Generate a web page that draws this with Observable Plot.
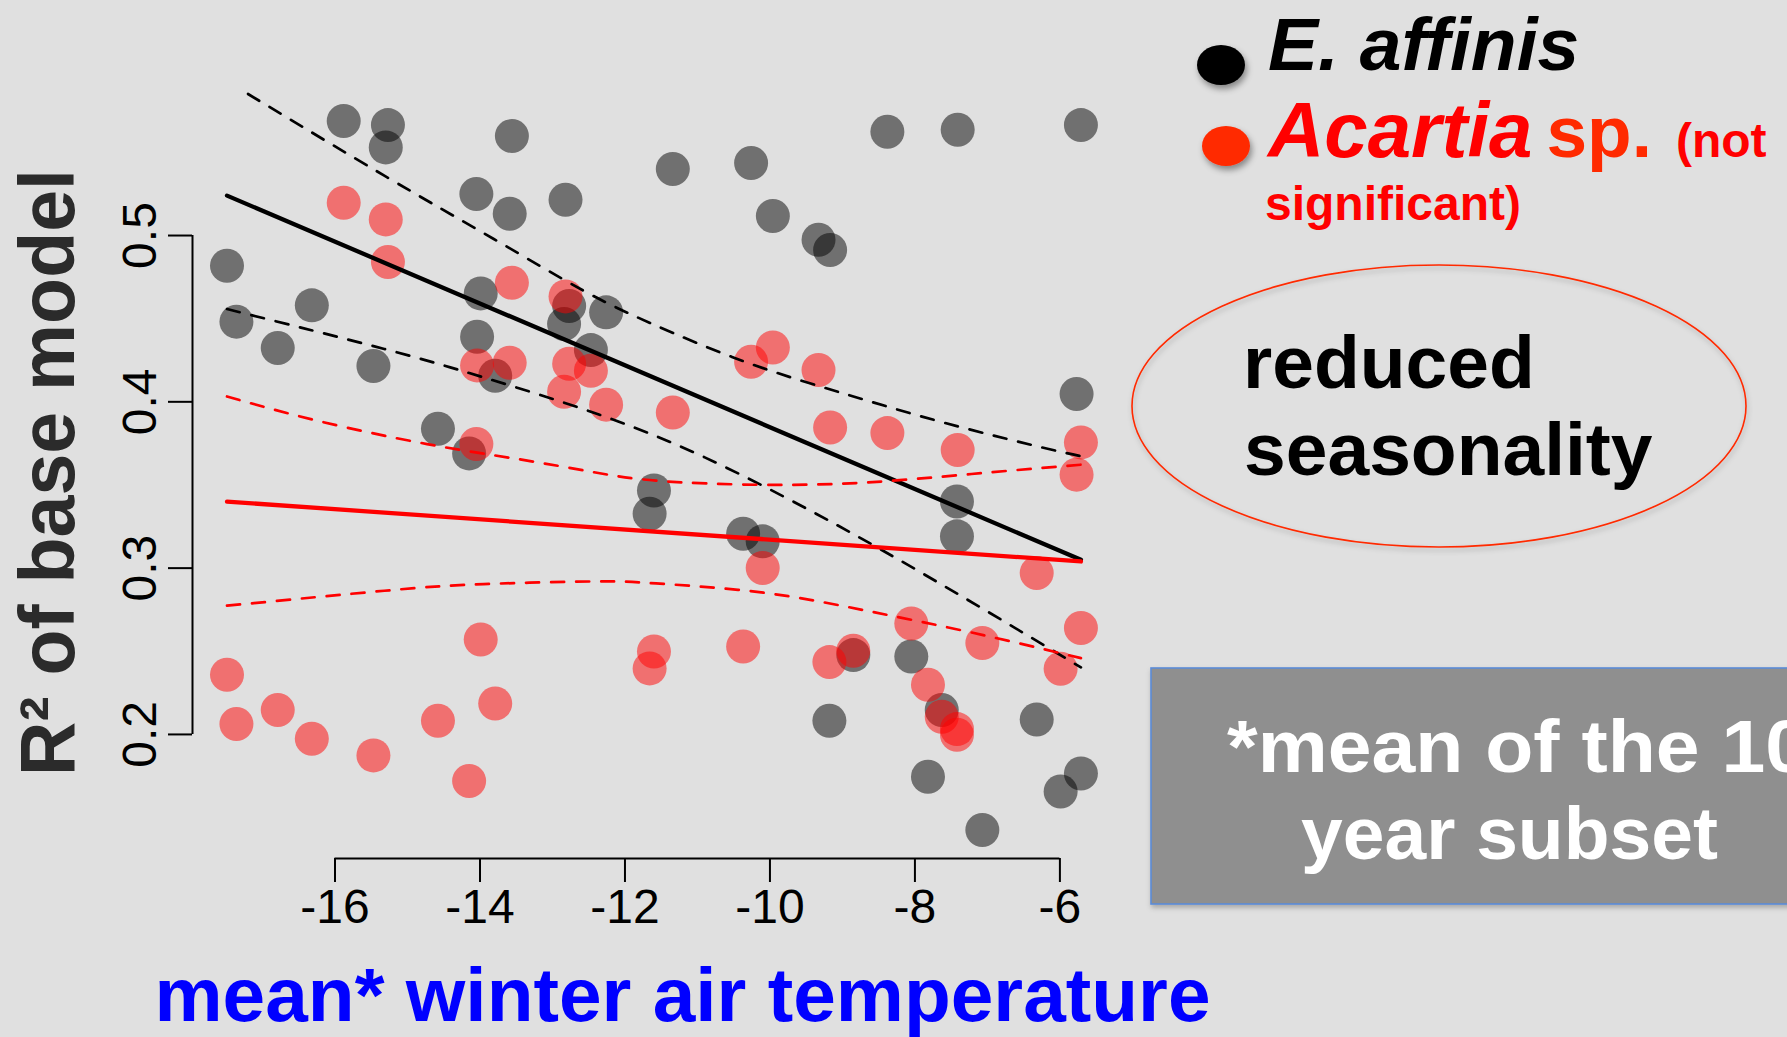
<!DOCTYPE html>
<html>
<head>
<meta charset="utf-8">
<script src="https://cdn.jsdelivr.net/npm/d3@7"></script>
<script src="https://cdn.jsdelivr.net/npm/@observablehq/plot@0.6"></script>
<style>
html, body { margin: 0; padding: 0; background: #e0e0e0; }
#chart { position: relative; width: 1787px; height: 1037px; overflow: hidden; }
</style>
</head>
<body>
<div id="chart"></div>
<script>
// mean winter air temperature of each 10-year subset (shared by both species)
const temperature = [-17.49, -17.36, -16.79, -16.32, -15.88, -15.47, -15.30, -15.27, -14.58, -14.15,
  -14.05, -14.04, -13.99, -13.79, -13.59, -13.56, -12.84, -12.82, -12.77, -12.47,
  -12.26, -11.66, -11.60, -11.34, -10.37, -10.26, -10.10, -9.96, -9.33, -9.18,
  -9.17, -8.85, -8.38, -8.05, -7.82, -7.63, -7.42, -7.42, -7.41, -7.07,
  -6.32, -5.99, -5.77, -5.71, -5.71];
// R² of base model, E. affinis
const r2Eaffinis = [0.4818, 0.4482, 0.4324, 0.4580, 0.5689, 0.4215, 0.5530, 0.5664, 0.3838, 0.3690,
  0.5250, 0.4391, 0.4652, 0.4157, 0.5131, 0.5598, 0.4468, 0.5215, 0.4576, 0.4311,
  0.4538, 0.3327, 0.3467, 0.5400, 0.3207, 0.5436, 0.3161, 0.5117, 0.4975, 0.2082,
  0.4913, 0.2477, 0.5624, 0.2469, 0.1746, 0.2147, 0.3401, 0.3191, 0.5636, 0.1425,
  0.2090, 0.1657, 0.4047, 0.5664, 0.1765];
// R² of base model, Acartia sp.
const r2Acartia = [0.2359, 0.2063, 0.2147, 0.1974, 0.5197, 0.1874, 0.5097, 0.4841, 0.2082, 0.1720,
  0.3746, 0.4219, 0.2571, 0.2186, 0.4235, 0.4716, 0.4061, 0.4634, 0.4229, 0.4187,
  0.3983, 0.2397, 0.2499, 0.3936, 0.2529, 0.4241, 0.3001, 0.4327, 0.4191, 0.2435,
  0.3846, 0.2503, 0.3812, 0.2667, 0.2299, 0.2106, 0.2032, 0.1998, 0.3710, 0.2550,
  0.2971, 0.2395, 0.3562, 0.3756, 0.2640];

// fitted regression lines (end points)
const fitX = [-17.49, -5.71];
const fitEaffinis = [0.524, 0.305];
const fitAcartia = [0.340, 0.304];

// confidence bands
const bandEaffinisUpperX = [-17.20, -15.32, -13.81, -12.57, -11.62, -10.32, -8.96, -7.61, -6.25, -5.71];
const bandEaffinisUpperY = [0.5851, 0.5360, 0.4979, 0.4668, 0.4468, 0.4237, 0.4047, 0.3876, 0.3726, 0.3673];
const bandEaffinisLowerX = [-17.49, -15.32, -13.95, -12.38, -10.90, -9.44, -8.24, -6.98, -5.71];
const bandEaffinisLowerY = [0.4558, 0.4318, 0.4147, 0.3927, 0.3666, 0.3345, 0.3055, 0.2734, 0.2403];
const bandAcartiaUpperX = [-17.49, -16.24, -14.73, -13.48, -12.47, -11.57, -10.12, -8.67, -7.22, -5.71];
const bandAcartiaUpperY = [0.4032, 0.3886, 0.3746, 0.3656, 0.3580, 0.3526, 0.3501, 0.3515, 0.3566, 0.3622];
const bandAcartiaLowerX = [-17.49, -15.32, -13.95, -12.38, -11.57, -10.12, -8.67, -7.22, -5.71];
const bandAcartiaLowerY = [0.2774, 0.2864, 0.2904, 0.2920, 0.2908, 0.2854, 0.2744, 0.2613, 0.2459];

const xTicks = [-16, -14, -12, -10, -8, -6];
const yTicks = [0.2, 0.3, 0.4, 0.5];
const xTitle = "mean* winter air temperature";
const yTitle = "R² of base model";

// tables
const eaff = temperature.map((t, i) => ({t, r2: r2Eaffinis[i]}));
const acar = temperature.map((t, i) => ({t, r2: r2Acartia[i]}));
const toRows = (xs, ys) => xs.map((t, i) => ({t, r2: ys[i]}));
const fitE = toRows(fitX, fitEaffinis);
const fitA = toRows(fitX, fitAcartia);
const bEU = toRows(bandEaffinisUpperX, bandEaffinisUpperY);
const bEL = toRows(bandEaffinisLowerX, bandEaffinisLowerY);
const bAU = toRows(bandAcartiaUpperX, bandAcartiaUpperY);
const bAL = toRows(bandAcartiaLowerX, bandAcartiaLowerY);

const xDomain = [-17.966, -5.233];
const yDomain = [0.1254, 0.5860];
const font = "'Liberation Sans', Arial, Helvetica, sans-serif";
const dash = {strokeWidth: 2.7, strokeDasharray: "13,12", curve: "natural", clip: true};

const svg = Plot.plot({
  width: 1787,
  height: 1037,
  marginLeft: 192,
  marginRight: 672,
  marginTop: 92,
  marginBottom: 179,
  x: {domain: xDomain},
  y: {domain: yDomain},
  style: {background: "#e0e0e0", fontFamily: font, overflow: "hidden", color: "black"},
  marks: [
    Plot.dot(eaff, {x: "t", y: "r2", r: 17, fill: "black", fillOpacity: 0.5}),
    Plot.dot(acar, {x: "t", y: "r2", r: 17, fill: "#ff0000", fillOpacity: 0.5}),
    Plot.line(bEU, {x: "t", y: "r2", stroke: "black", ...dash}),
    Plot.line(bEL, {x: "t", y: "r2", stroke: "black", ...dash}),
    Plot.line(fitE, {x: "t", y: "r2", stroke: "black", strokeWidth: 4.3}),
    Plot.line(bAU, {x: "t", y: "r2", stroke: "#ff0000", ...dash}),
    Plot.line(bAL, {x: "t", y: "r2", stroke: "#ff0000", ...dash}),
    Plot.line(fitA, {x: "t", y: "r2", stroke: "#ff0000", strokeWidth: 4.3}),
    Plot.ruleY([yDomain[0]], {x1: xTicks[0], x2: xTicks[xTicks.length - 1], stroke: "black", strokeWidth: 2}),
    Plot.ruleX([xDomain[0]], {y1: yTicks[0], y2: yTicks[yTicks.length - 1], stroke: "black", strokeWidth: 2}),
    Plot.axisX({ticks: xTicks, tickSize: 24, tickPadding: 6, fontSize: 48, strokeWidth: 2,
      tickFormat: d => String(d), label: null}),
    Plot.axisY({ticks: yTicks, tickSize: 24, tickPadding: 13, tickRotate: -90, fontSize: 48, strokeWidth: 2,
      tickFormat: d => d.toFixed(1), label: null}),
    Plot.text([xTitle], {text: d => d, frameAnchor: "bottom-left", dx: 490, dy: 162,
      lineAnchor: "bottom", textAnchor: "middle", fontSize: 76, fontWeight: "bold", fill: "#0000ff"}),
    Plot.text([yTitle], {text: d => d, frameAnchor: "left", dx: -119, dy: -3, rotate: -90,
      lineAnchor: "bottom", textAnchor: "middle", fontSize: 77, fontWeight: "bold", fill: "#2b2b2b"})
  ]
});

document.getElementById("chart").appendChild(svg);

const s = d3.select(svg);
s.selectAll("text").filter(function() { return this.textContent === xTitle; })
  .attr("textLength", 1056).attr("lengthAdjust", "spacingAndGlyphs");
s.selectAll("text").filter(function() { return this.textContent === yTitle; })
  .attr("textLength", 607).attr("lengthAdjust", "spacingAndGlyphs");

// annotations (legend, ellipse note, footnote box)
const defs = s.append("defs");
const f = defs.append("filter").attr("id", "shadow").attr("x", "-30%").attr("y", "-30%").attr("width", "160%").attr("height", "160%");
f.append("feDropShadow").attr("dx", 2).attr("dy", 4).attr("stdDeviation", 3).attr("flood-color", "#000").attr("flood-opacity", 0.4);
const f2 = defs.append("filter").attr("id", "softshadow").attr("x", "-10%").attr("y", "-10%").attr("width", "120%").attr("height", "130%");
f2.append("feDropShadow").attr("dx", 1).attr("dy", 3).attr("stdDeviation", 2.5).attr("flood-color", "#000").attr("flood-opacity", 0.25);

const g = s.append("g").attr("font-family", font).attr("font-weight", "bold").attr("text-anchor", "start");

// legend
g.append("ellipse").attr("cx", 1221).attr("cy", 65).attr("rx", 24).attr("ry", 20).attr("fill", "black").attr("filter", "url(#shadow)");
g.append("ellipse").attr("cx", 1226).attr("cy", 146).attr("rx", 24).attr("ry", 20).attr("fill", "#ff2a00").attr("filter", "url(#shadow)");
g.append("text").attr("x", 1268).attr("y", 70).attr("font-size", 75).attr("font-style", "italic").attr("fill", "black").text("E. affinis");
const t2 = g.append("text").attr("x", 1268).attr("y", 157).attr("fill", "#ff0000");
t2.append("tspan").attr("font-size", 78).attr("font-style", "italic").text("Acartia");
t2.append("tspan").attr("font-size", 73).attr("fill", "#ff2a00").attr("dx", 14).text("sp.");
t2.append("tspan").attr("font-size", 48).attr("dx", 24).text("(not");
g.append("text").attr("x", 1265).attr("y", 220).attr("font-size", 48).attr("fill", "#ff0000").text("significant)");

// ellipse note
g.append("ellipse").attr("cx", 1439).attr("cy", 406).attr("rx", 307).attr("ry", 141)
  .attr("fill", "none").attr("stroke", "#ff2a00").attr("stroke-width", 1.6).attr("filter", "url(#softshadow)");
g.append("text").attr("x", 1243).attr("y", 388).attr("font-size", 75).attr("fill", "black").text("reduced");
g.append("text").attr("x", 1244).attr("y", 475).attr("font-size", 75).attr("fill", "black").text("seasonality");

// footnote box
g.append("rect").attr("x", 1151).attr("y", 668).attr("width", 800).attr("height", 236)
  .attr("fill", "#8f8f8f").attr("stroke", "#5b8bd6").attr("stroke-width", 1.6).attr("filter", "url(#softshadow)");
g.append("text").attr("x", 1227).attr("y", 772).attr("font-size", 75).attr("fill", "white")
  .attr("textLength", 582).attr("lengthAdjust", "spacingAndGlyphs").text("*mean of the 10");
g.append("text").attr("x", 1301).attr("y", 859).attr("font-size", 75).attr("fill", "white").text("year subset");
</script>
</body>
</html>
